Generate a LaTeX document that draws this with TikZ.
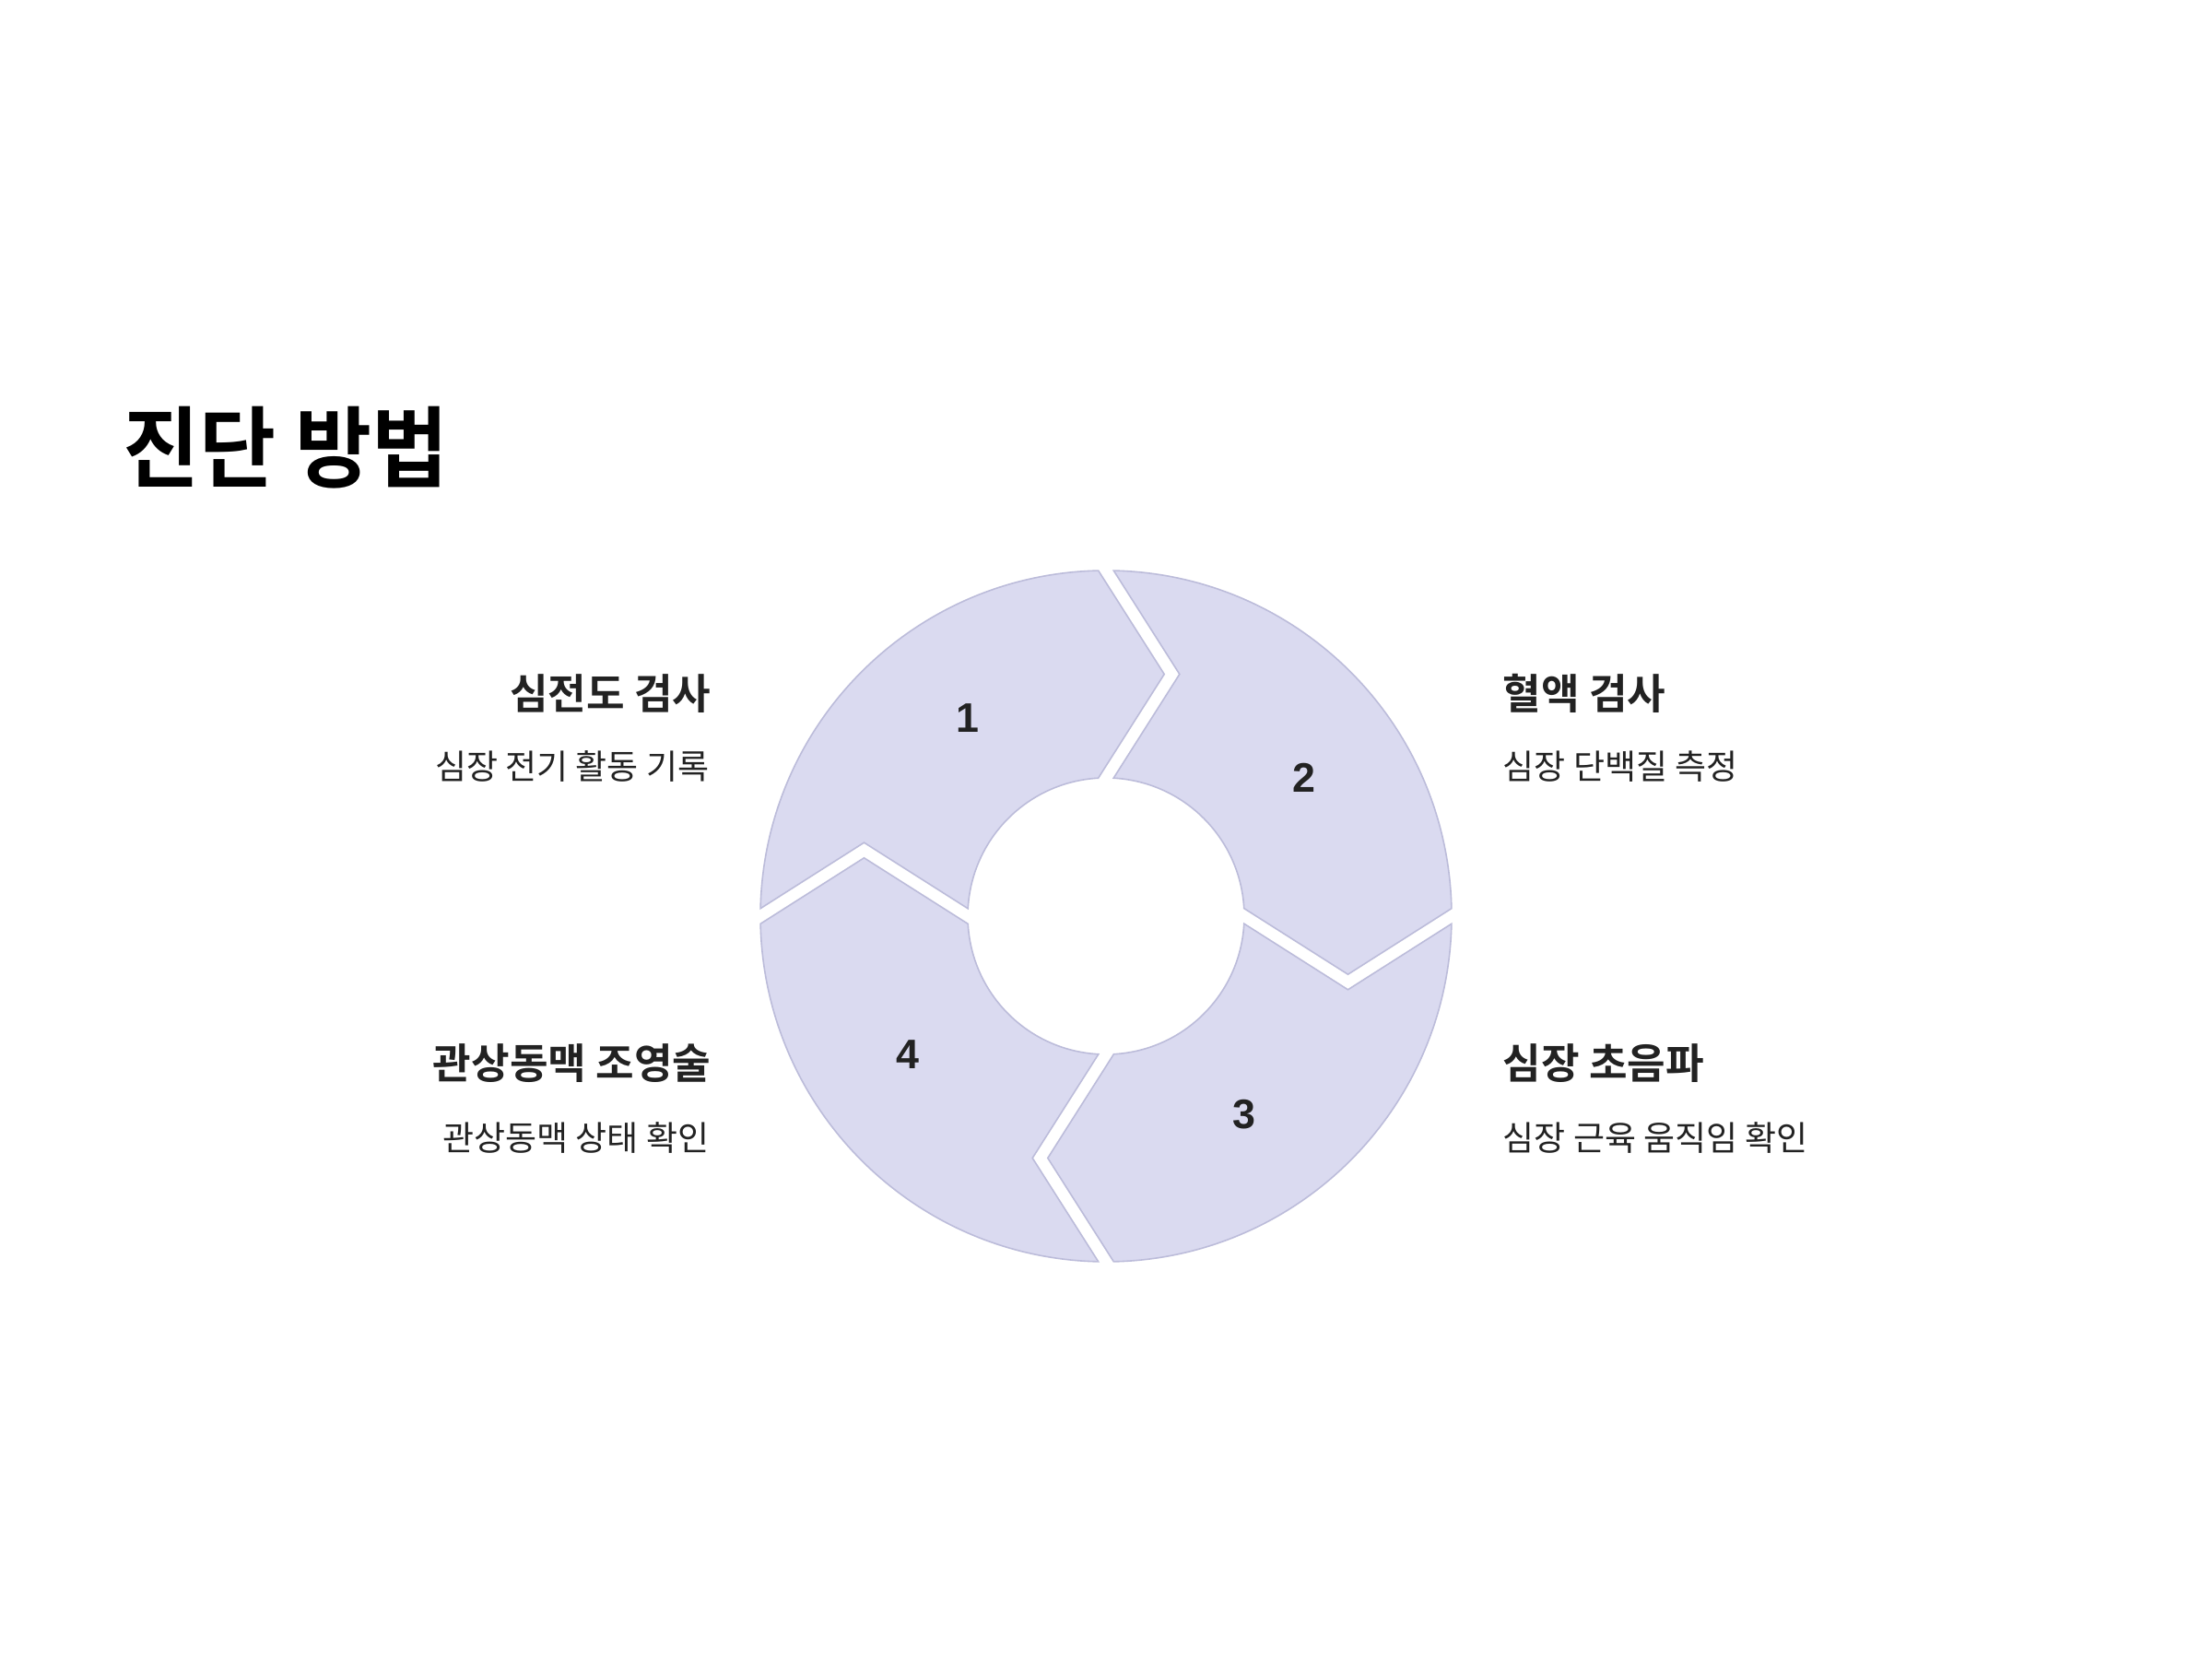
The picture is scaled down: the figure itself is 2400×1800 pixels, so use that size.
\documentclass[tikz,border=0pt]{standalone}
\usepackage{fontspec}
\usetikzlibrary{calc}
\newfontfamily\kr{Noto Sans CJK KR}
\newfontfamily\krb{Noto Sans CJK KR Bold}
\newfontfamily\krt{Noto Sans CJK KR Bold}[FakeStretch=0.94]
\newfontfamily\numf{Liberation Sans}
\definecolor{segfill}{HTML}{DADAF0}
\definecolor{segdraw}{HTML}{BCBCDA}
\definecolor{txt}{HTML}{222222}
\begin{document}
\begin{tikzpicture}[x=0.25pt,y=0.25pt,
  seg/.style={fill=segfill, draw=segdraw, line width=0.4pt, line join=miter},
  num/.style={font=\numf\bfseries\fontsize{11.2}{13}\selectfont, text=txt},
  ttl/.style={font=\krt\fontsize{24}{28}\selectfont, text=black, inner sep=0pt},
  head/.style={font=\krb\fontsize{11.3}{14}\selectfont, text=txt, inner sep=0pt},
  desc/.style={font=\kr\fontsize{9.25}{11}\selectfont, text=txt, inner sep=0pt}]
\path[use as bounding box, fill=white] (0,0) rectangle (2400,1800);
\coordinate (c) at (1200,806);
\foreach \r in {0,-90,-180,-270}{
  \begin{scope}[shift={(c)}, rotate=\r]
  \path[seg] (91.27:375) arc[start angle=91.27,end angle=178.73,radius=375]
     -- (-262.5,79.8) -- (176.87:150)
     arc[start angle=176.87,end angle=93.21,radius=150]
     -- (63.2,262.5) -- cycle;
  \end{scope}
}
\node[num] (n1) at ($(c)+(125:262)$) {1};
\node[num] (n2) at ($(c)+(35:262)$) {2};
\node[num] (n3) at ($(c)+(-55:262)$) {3};
\node[num] (n4) at ($(c)+(-145:262)$) {4};
\node[ttl, anchor=base west] (title) at (133,1278) {진단 방법};
\node[head, anchor=base east] (h1) at (772,1030) {심전도 검사};
\node[desc, anchor=base east] (d1) at (770,954) {심장 전기 활동 기록};
\node[head, anchor=base east] (h4) at (772,629) {관상동맥 조영술};
\node[desc, anchor=base east] (d4) at (770,551) {관상동맥 상태 확인};
\node[head, anchor=base west] (h2) at (1630,1030) {혈액 검사};
\node[desc, anchor=base west] (d2) at (1630,954) {심장 단백질 측정};
\node[head, anchor=base west] (h3) at (1630,629) {심장 초음파};
\node[desc, anchor=base west] (d3) at (1630,551) {심장 근육 움직임 확인};
\end{tikzpicture}
\end{document}
